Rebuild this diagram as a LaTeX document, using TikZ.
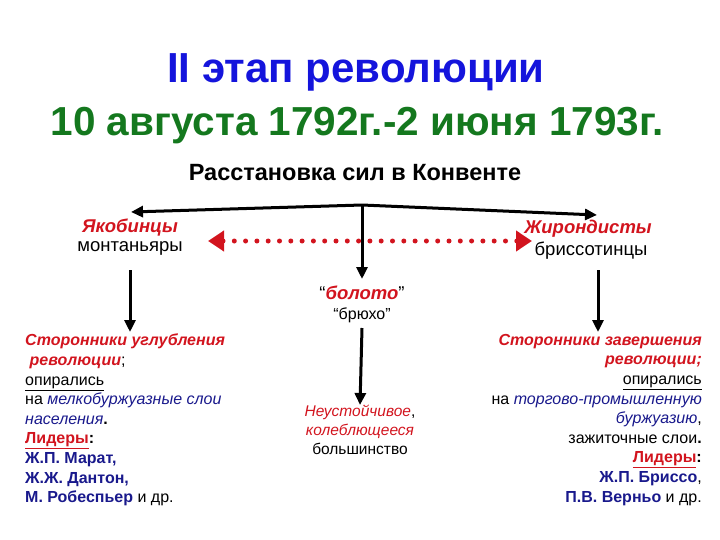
\documentclass[tikz,border=0pt]{standalone}
\usepackage{fontspec}
\setmainfont{Liberation Sans}
\usetikzlibrary{arrows.meta}
\definecolor{tblue}{RGB}{20,20,220}
\definecolor{tgreen}{RGB}{20,120,30}
\definecolor{dred}{RGB}{210,20,30}
\definecolor{nblue}{RGB}{25,25,140}
\begin{document}
\begin{tikzpicture}[x=1pt,y=-1pt,
  arr/.style={line width=3pt,-{Triangle[length=12pt,width=11pt]}},
  txt/.style={inner sep=0pt,font=\fontsize{16}{19.6}\selectfont},
  lbl/.style={inner sep=0pt}]
\useasboundingbox (0,0) rectangle (720,540);
\node[lbl,font=\fontsize{42}{46}\bfseries\selectfont,text=tblue] (t1) at (356,72) {II этап революции};
\node[lbl,font=\fontsize{40.5}{46}\bfseries\selectfont,text=tgreen] (t2) at (357,126) {10 августа 1792г.-2 июня 1793г.};
\node[lbl,font=\fontsize{23.5}{28}\bfseries\selectfont] (r) at (355,173) {Расстановка сил в Конвенте};
\coordinate (o) at (362,205);
\node[lbl,font=\fontsize{18.5}{22}\bfseries\itshape\selectfont,text=dred] (ja) at (130,228) {Якобинцы};
\node[lbl,font=\fontsize{18.5}{22}\selectfont] (jm) at (130,248) {монтаньяры};
\node[lbl,font=\fontsize{18.5}{22}\bfseries\itshape\selectfont,text=dred] (gi) at (588,229) {Жирондисты};
\node[lbl,font=\fontsize{18.5}{22}\selectfont] (gb) at (591,251) {бриссотинцы};
\node[lbl,font=\fontsize{18.5}{22}\selectfont] (bo) at (362,293) {“\textcolor{dred}{\bfseries\itshape болото}”};
\node[lbl,font=\fontsize{16}{18}\selectfont] (br) at (362,315) {“брюхо”};
\coordinate (al) at (131,212);
\coordinate (ar) at (597,215);
\draw[arr] (o) -- (al);
\draw[arr] (o) -- (ar);
\draw[arr] (o) -- (362,279);
\coordinate (dl) at (208,241);
\coordinate (dr) at (532,241);
\draw[dred,line width=5pt,dash pattern=on 0pt off 11.3pt,line cap=round,
  {Triangle[length=16pt,width=20pt]}-{Triangle[length=16pt,width=20pt]}] (dl) -- (dr);
\coordinate (l1) at (130,270);
\coordinate (r1) at (598,270);
\coordinate (m1) at (362,328);
\node[txt,anchor=north west,align=left] (L) at (25,334) {%
\textcolor{dred}{\bfseries\itshape Сторонники углубления}\\
\ \textcolor{dred}{\bfseries\itshape революции};\\
\underline{опирались}\\
на \textcolor{nblue}{\itshape мелкобуржуазные слои}\\
\textcolor{nblue}{\itshape населения}\textbf{.}\\
\textcolor{dred}{\bfseries\underline{Лидеры}}\textbf{:}\\
\textcolor{nblue}{\bfseries Ж.П. Марат,}\\
\textcolor{nblue}{\bfseries Ж.Ж. Дантон,}\\
\textcolor{nblue}{\bfseries М. Робеспьер} и др.};
\node[txt,anchor=north east,align=right] (R) at (702,334) {%
\textcolor{dred}{\bfseries\itshape Сторонники завершения}\\
\textcolor{dred}{\bfseries\itshape революции;}\\
\underline{опирались}\\
на \textcolor{nblue}{\itshape торгово-промышленную}\\
\textcolor{nblue}{\itshape буржуазию},\\
зажиточные слои\textbf{.}\\
\textcolor{dred}{\bfseries\underline{Лидеры}}\textbf{:}\\
\textcolor{nblue}{\bfseries Ж.П. Бриссо},\\
\textcolor{nblue}{\bfseries П.В. Верньо} и др.};
\node[txt,anchor=north,align=center,font=\fontsize{15.5}{19}\selectfont] (M) at (360,405) {%
\textcolor{dred}{\itshape Неустойчивое},\\
\textcolor{dred}{\itshape колеблющееся}\\
большинство};
\draw[arr] (l1) -- (130,332);
\draw[arr] (r1) -- (598,332);
\draw[arr] (m1) -- (M.north);
\end{tikzpicture}
\end{document}
